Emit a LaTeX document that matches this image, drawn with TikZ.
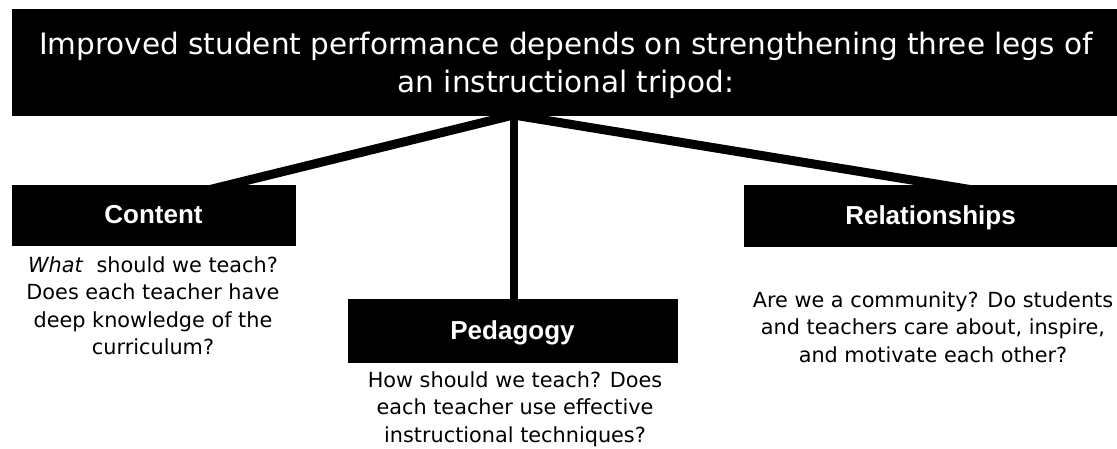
\documentclass[tikz,border=0pt]{standalone}
\usepackage{fontspec}
\setmainfont{DejaVu Sans}
\newfontfamily\headfont{Liberation Sans}
\begin{document}
\begin{tikzpicture}[x=1pt,y=-1pt,
  bar/.style={fill=black,draw=black,inner sep=0pt},
  legbox/.style={bar,text=white,font=\headfont\bfseries\fontsize{26}{30}\selectfont,
    text height=18pt,text depth=0pt},
  note/.style={align=center,anchor=north,inner sep=0pt,
    font=\fontsize{20.8}{27.5}\selectfont},
  leg/.style={line width=9pt},
  post/.style={line width=8pt}]
\useasboundingbox (0,0) rectangle (1117,449);

% tripod legs, drawn first so the boxes cover their ends
\coordinate (apex) at (513.5,115);
\coordinate (cfoot) at (208,190);
\coordinate (pfoot) at (513.5,305);
\coordinate (rfoot) at (973,190);
\draw[leg] (apex) -- (cfoot);
\draw[leg] (apex) -- (rfoot);
\draw[post] (apex) -- (pfoot);

% headline bar
\node[bar,minimum width=1105pt,minimum height=106pt] (title) at (564.5,62) {};
\node[note,text=white,font=\fontsize{29.5}{38}\selectfont] (titletext) at (566,31.6)
  {Improved student performance depends on strengthening three legs of\\an instructional tripod:};

% the three legs
\node[legbox,minimum width=283pt,minimum height=60pt] (content) at (153.5,215) {Content};
\node[legbox,minimum width=329pt,minimum height=63pt] (pedagogy) at (512.5,330.5) {Pedagogy};
\node[legbox,minimum width=373pt,minimum height=61pt] (relations) at (930.5,215.5) {Relationships};

% questions under each leg
\node[note] (contentnote) at (153,256.2)
  {\textit{What}\ \ should we teach?\\Does each teacher have\\deep knowledge of the\\curriculum?};
\node[note] (pednote) at (515,371.2)
  {How should we teach? Does\\each teacher use effective\\instructional techniques?};
\node[note] (relnote) at (933,291.2)
  {Are we a community? Do students\\and teachers care about, inspire,\\and motivate each other?};
\end{tikzpicture}
\end{document}
